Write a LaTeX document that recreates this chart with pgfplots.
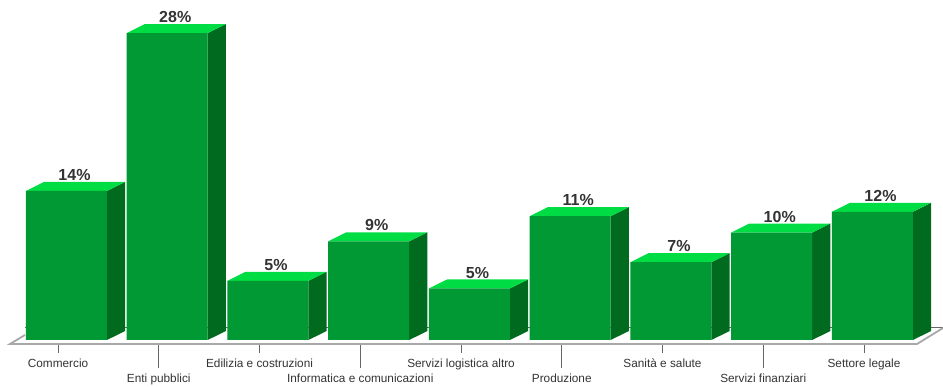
\documentclass[border=0pt]{standalone}
\usepackage{fontspec}
\setmainfont{Liberation Sans}
\usepackage{pgfplots}
\usepackage{pgfplotstable}
\pgfplotsset{compat=1.18}
\definecolor{barfront}{HTML}{009933}
\definecolor{bartop}{HTML}{00DD44}
\definecolor{barside}{HTML}{006A1E}
\definecolor{floorline}{HTML}{A8A8A8}
\definecolor{tickgrey}{HTML}{666666}
\definecolor{labeltext}{HTML}{333333}

% Sector shares in percent, one row per bar
\pgfplotstableread{
pos share
0 13.6
1 28.0
2 5.4
3 9.0
4 4.7
5 11.3
6 7.1
7 9.8
8 11.7
}\sectors

% Half width of a bar and the oblique depth of the 3D faces, in axis units
\def\hw{0.402}
\def\dx{0.179}
\def\dy{0.82}

\begin{document}
\begin{tikzpicture}
\path[use as bounding box] (0pt,-43pt) rectangle (943pt,344pt);
\begin{axis}[
    at={(0pt,0pt)}, anchor=south west,
    scale only axis, width=943pt, height=344pt,
    xmin=-0.66, xmax=8.70, ymin=-0.365, ymax=31.02,
    clip=false,
    axis y line=none,
    axis x line=bottom,
    x axis line style={draw=none,-},
    ytick=\empty,
    xtick={-0.084,1.916,3.916,5.916,7.916},
    xticklabels={Commercio,Edilizia e costruzioni,Servizi logistica altro,Sanità e salute,Settore legale},
    extra x ticks={0.916,2.916,4.916,6.916},
    extra x tick labels={Enti pubblici,Informatica e comunicazioni,Produzione,Servizi finanziari},
    extra x tick style={major tick length=24pt},
    major tick length=9pt,
    tick align=outside,
    x tick style={draw=tickgrey,line width=0.9pt},
    xticklabel style={font=\fontsize{11.8pt}{13pt}\selectfont,text=labeltext,
        anchor=base,yshift=-15pt,inner sep=0pt},
    minor tick num=0,
]
% Back edge of the floor, seen between the bars
\addplot[draw=tickgrey,line width=0.9pt] coordinates {(-0.412,1.186) (8.70,1.186)};
% Floor outline
\addplot[draw=floorline,line width=1.8pt] coordinates {(-0.412,0.456) (-0.561,-0.365) (8.442,-0.365) (8.70,1.095)};

% Top and side faces of each bar
\pgfplotsinvokeforeach{0,...,8}{
    \pgfplotstablegetelem{#1}{share}\of\sectors
    \let\val\pgfplotsretval
    \pgfmathsetmacro\xl{#1-\hw}
    \pgfmathsetmacro\xr{#1+\hw}
    \pgfmathsetmacro\xlb{#1-\hw+\dx}
    \pgfmathsetmacro\xrb{#1+\hw+\dx}
    \pgfmathsetmacro\vb{\val+\dy}
    \addplot[fill=barside,draw=none] coordinates {(\xr,0) (\xrb,\dy) (\xrb,\vb) (\xr,\val)} -- cycle;
    \addplot[fill=bartop,draw=none] coordinates {(\xl,\val) (\xr,\val) (\xrb,\vb) (\xlb,\vb)} -- cycle;
}
% Front faces, with the share printed above each bar
\addplot[ybar,bar width=81pt,bar shift=0pt,fill=barfront,draw=none,
    point meta=y,
    nodes near coords={\pgfmathprintnumber[fixed,precision=0,assume math mode=true]{\pgfplotspointmeta}\%},
    every node near coord/.style={anchor=south,xshift=8pt,yshift=10pt,inner sep=0pt,
        font=\fontsize{16pt}{18pt}\selectfont\bfseries,text=labeltext},
] table[x=pos,y=share]{\sectors};
\end{axis}
\end{tikzpicture}
\end{document}
